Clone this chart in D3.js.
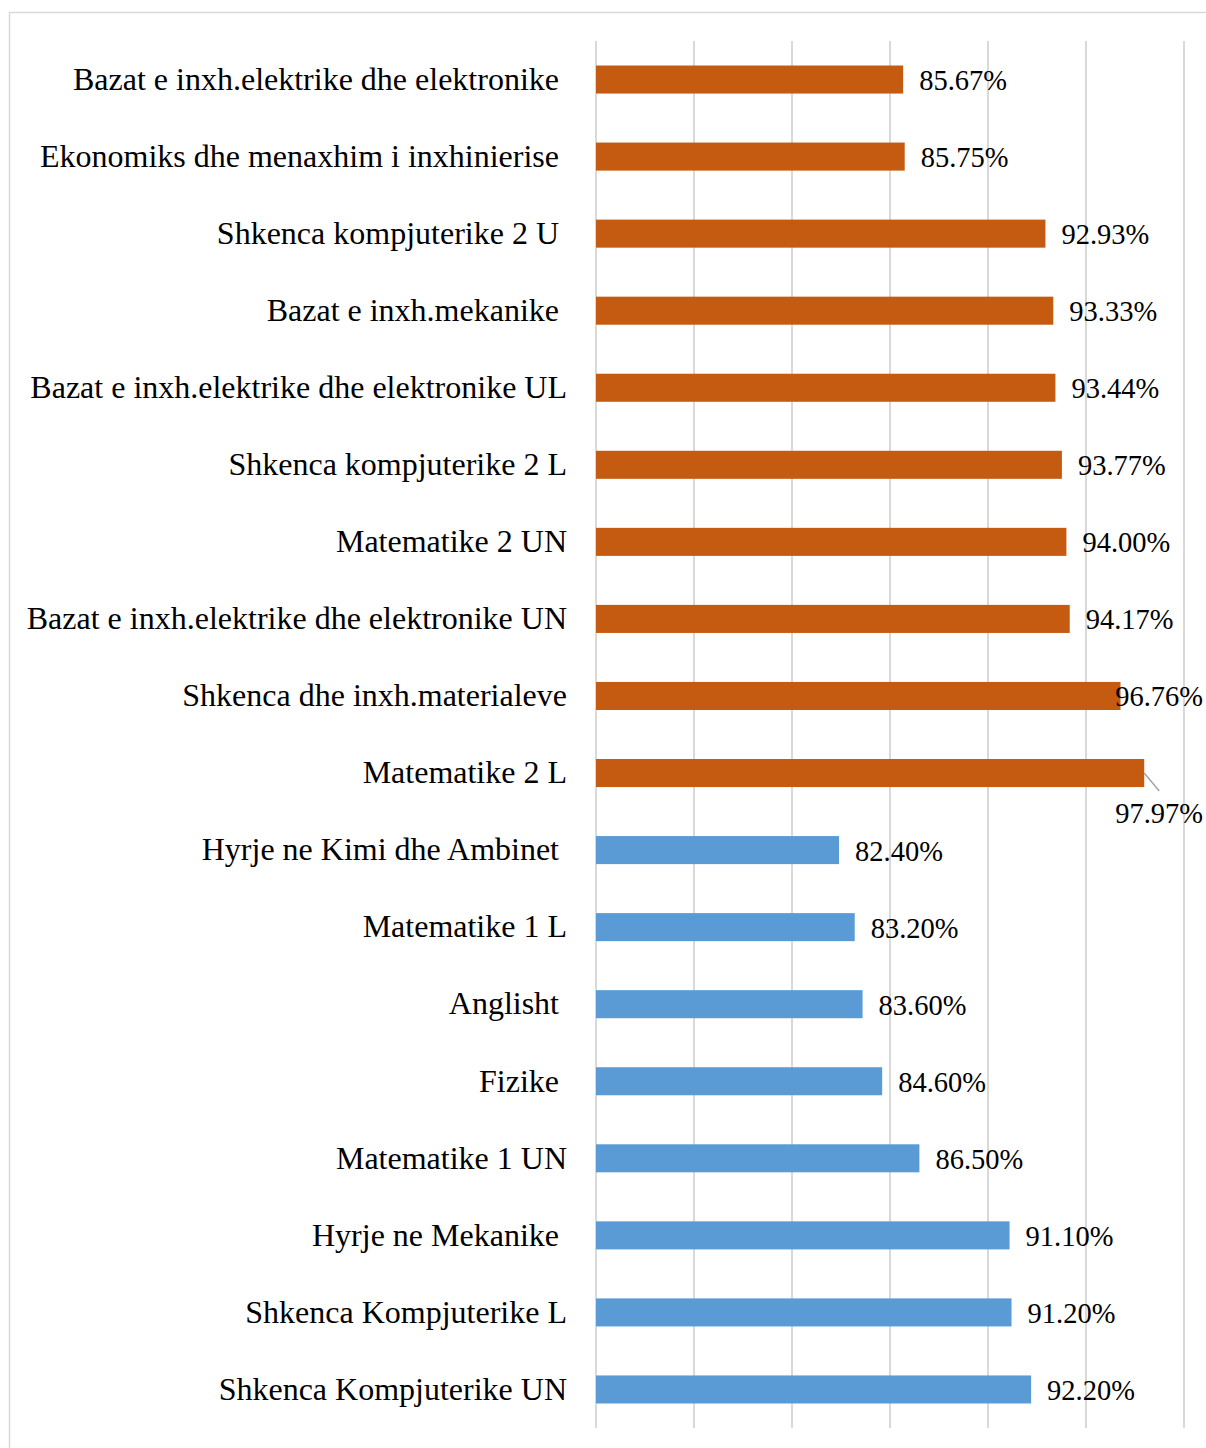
<!DOCTYPE html>
<html>
<head>
<meta charset="utf-8">
<script src="https://cdn.jsdelivr.net/npm/d3@7"></script>
<style>
  html, body { margin: 0; padding: 0; background: #fff; }
  svg text { white-space: pre; }
</style>
</head>
<body>
<script>
// Categories top to bottom (trailing spaces are part of the original labels)
const subjects = [
  'Bazat e inxh.elektrike dhe elektronike ',
  'Ekonomiks dhe menaxhim i inxhinierise ',
  'Shkenca kompjuterike 2 U ',
  'Bazat e inxh.mekanike ',
  'Bazat e inxh.elektrike dhe elektronike UL',
  'Shkenca kompjuterike 2 L',
  'Matematike 2 UN',
  'Bazat e inxh.elektrike dhe elektronike UN',
  'Shkenca dhe inxh.materialeve',
  'Matematike 2 L',
  'Hyrje ne Kimi dhe Ambinet ',
  'Matematike 1 L',
  'Anglisht ',
  'Fizike ',
  'Matematike 1 UN',
  'Hyrje ne Mekanike ',
  'Shkenca Kompjuterike L',
  'Shkenca Kompjuterike UN'
];
const passRates = [85.67, 85.75, 92.93, 93.33, 93.44, 93.77, 94.00, 94.17, 96.76, 97.97,
                   82.40, 83.20, 83.60, 84.60, 86.50, 91.10, 91.20, 92.20];
const groups = ['year2', 'year2', 'year2', 'year2', 'year2', 'year2', 'year2', 'year2', 'year2', 'year2',
                'year1', 'year1', 'year1', 'year1', 'year1', 'year1', 'year1', 'year1'];
const gridTicks = [70, 75, 80, 85, 90, 95, 100];

const data = subjects.map((s, i) => ({ name: s, value: passRates[i], group: groups[i] }));

const fullWidth = 1206;
const fullHeight = 1448;
const plot = { left: 596, right: 1184, top: 41, bottom: 1428 };
const labelLimit = 1203;

const colors = { year2: '#C55A11', year1: '#5B9BD5' };

const svg = d3.select('body')
  .append('svg')
  .attr('width', fullWidth)
  .attr('height', fullHeight)
  .style('font-family', '"Liberation Serif", "Times New Roman", serif');

// Chart frame
svg.append('rect')
  .attr('x', 9.5)
  .attr('y', 12.5)
  .attr('width', 1300)
  .attr('height', 1500)
  .attr('fill', '#fff')
  .attr('stroke', '#d9d9d9')
  .attr('stroke-width', 1.5);

// Scales
const xScale = d3.scaleLinear()
  .domain([70, 100])
  .range([plot.left, plot.right]);

const yScale = d3.scaleBand()
  .domain(subjects)
  .range([plot.top, plot.bottom])
  .paddingInner(0.636)
  .paddingOuter(0.318);

// Gridlines
svg.append('g')
  .selectAll('line')
  .data(gridTicks)
  .enter()
  .append('line')
  .attr('x1', d => xScale(d))
  .attr('x2', d => xScale(d))
  .attr('y1', plot.top)
  .attr('y2', plot.bottom)
  .attr('stroke', '#d9d9d9')
  .attr('stroke-width', 2);

// Bars
svg.append('g')
  .selectAll('rect')
  .data(data)
  .enter()
  .append('rect')
  .attr('x', xScale(70))
  .attr('y', d => yScale(d.name))
  .attr('width', d => xScale(d.value) - xScale(70))
  .attr('height', yScale.bandwidth())
  .attr('fill', d => colors[d.group]);

// Category labels
const yAxis = d3.axisLeft(yScale).tickSize(0).tickPadding(29);
const yG = svg.append('g')
  .attr('transform', `translate(${plot.left}, 0)`)
  .call(yAxis);
yG.select('.domain').remove();
yG.selectAll('text')
  .style('font-family', '"Liberation Serif", "Times New Roman", serif')
  .style('font-size', '32px')
  .attr('fill', '#000');

// Data labels
const fmt = d3.format('.2f');
const labels = svg.append('g');
data.forEach(d => {
  const end = xScale(d.value);
  const cy = yScale(d.name) + yScale.bandwidth() / 2;
  const t = labels.append('text')
    .attr('dominant-baseline', 'central')
    .style('font-size', '28.5px')
    .attr('fill', '#000')
    .text(`${fmt(d.value)}%`);
  const w = t.node().getComputedTextLength();
  let x = Math.min(end + 16, labelLimit - w);
  if (x < end - 15) {
    // no room: move the label below the bar with a leader line
    labels.append('line')
      .attr('x1', end)
      .attr('y1', cy)
      .attr('x2', end + 15)
      .attr('y2', cy + 18)
      .attr('stroke', '#a6a6a6')
      .attr('stroke-width', 1.5);
    t.attr('x', x).attr('y', cy + 40);
  } else {
    t.attr('x', x).attr('y', cy + 1);
  }
});
</script>
</body>
</html>
